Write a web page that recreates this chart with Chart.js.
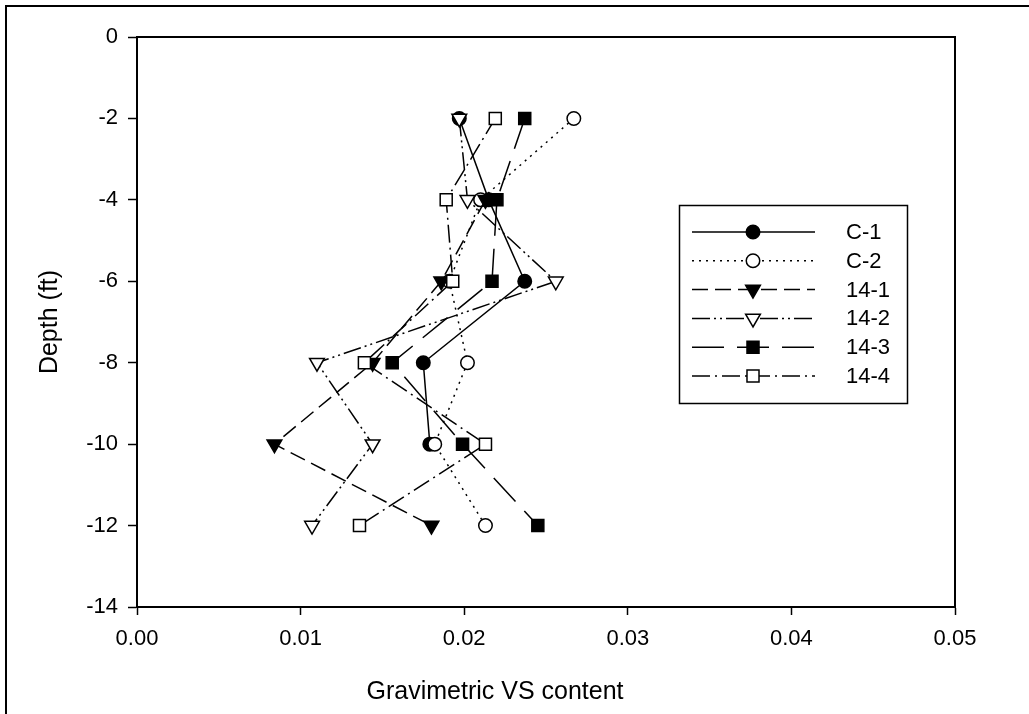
<!DOCTYPE html>
<html>
<head>
<meta charset="utf-8">
<script src="https://cdn.jsdelivr.net/npm/chart.js@4/dist/chart.umd.min.js"></script>
<style>
    html, body { margin: 0; padding: 0; background: #fff; }
    canvas { display: block; }
</style>
</head>
<body>
<canvas id="vs-depth-chart" width="1029" height="714"></canvas>
<script>
// depth of each sample (ft)
const depths = [-2, -4, -6, -8, -10, -12];

// gravimetric VS content per profile (null = no sample)
const c1 = [0.0197, 0.0215, 0.0237, 0.0175, 0.0179, null];
const c2 = [0.0267, 0.0210, 0.0191, 0.0202, 0.0182, 0.0213];
const p141 = [null, 0.0213, 0.0186, 0.0144, 0.0084, 0.0180];
const p142 = [0.0197, 0.0202, 0.0256, 0.0110, 0.0144, 0.0107];
const p143 = [0.0237, 0.0220, 0.0217, 0.0156, 0.0199, 0.0245];
const p144 = [0.0219, 0.0189, 0.0193, 0.0139, 0.0213, 0.0136];

const seriesLabels = ['C-1', 'C-2', '14-1', '14-2', '14-3', '14-4'];
const xTitle = 'Gravimetric VS content';
const yTitle = 'Depth (ft)';

const FONT = "'Liberation Sans', Arial, sans-serif";

const toPoints = (values) => values.map((v, i) => ({ x: v, y: depths[i] }));

const seriesStyles = [
    { values: c1, dash: [], pointStyle: 'circle', radius: 6.75, rotation: 0, fill: '#000' },
    { values: c2, dash: [2, 5], pointStyle: 'circle', radius: 6.75, rotation: 0, fill: '#fff' },
    { values: p141, dash: [16, 7], pointStyle: 'triangle', radius: 8.5, rotation: 180, fill: '#000' },
    { values: p142, dash: [18, 4, 2, 4, 2, 4], pointStyle: 'triangle', radius: 8.5, rotation: 180, fill: '#fff' },
    { values: p143, dash: [32, 13], pointStyle: 'rect', radius: 8.5, rotation: 0, fill: '#000' },
    { values: p144, dash: [18, 5, 2, 5], pointStyle: 'rect', radius: 8.5, rotation: 0, fill: '#fff' },
];

const datasets = seriesStyles.map((s, i) => ({
    label: seriesLabels[i],
    data: toPoints(s.values),
    borderColor: '#000',
    borderWidth: 1.5,
    borderDash: s.dash,
    pointStyle: s.pointStyle,
    pointRadius: s.radius,
    pointRotation: s.rotation,
    pointBackgroundColor: s.fill,
    pointBorderColor: '#000',
    pointBorderWidth: 1.5,
    fill: false,
    tension: 0,
    // later series on top, as in the original
    order: seriesStyles.length - i,
}));

const drawMarker = (ctx, s, x, y) => {
    ctx.save();
    ctx.setLineDash([]);
    ctx.fillStyle = s.fill;
    ctx.strokeStyle = '#000';
    ctx.lineWidth = 1.5;
    Chart.helpers.drawPoint(ctx, {
        pointStyle: s.pointStyle,
        radius: s.radius,
        rotation: s.rotation,
        borderWidth: 1.5,
    }, x, y);
    ctx.restore();
};

const decorPlugin = {
    id: 'decor',
    beforeDraw(chart) {
        const { ctx, width, height } = chart;
        ctx.save();
        ctx.fillStyle = '#fff';
        ctx.fillRect(0, 0, width, height);
        // page border (left and top visible)
        ctx.strokeStyle = '#000';
        ctx.lineWidth = 2;
        ctx.beginPath();
        ctx.moveTo(6, height + 2);
        ctx.lineTo(6, 6);
        ctx.lineTo(width + 2, 6);
        ctx.stroke();
        ctx.restore();
    },
    afterDraw(chart) {
        const { ctx, chartArea: a } = chart;
        ctx.save();

        // close the plot box
        ctx.strokeStyle = '#000';
        ctx.lineWidth = 2;
        ctx.beginPath();
        ctx.moveTo(a.left, a.top);
        ctx.lineTo(a.right, a.top);
        ctx.lineTo(a.right, a.bottom);
        ctx.stroke();

        // axis titles
        ctx.fillStyle = '#000';
        ctx.font = `25px ${FONT}`;
        ctx.textAlign = 'center';
        ctx.textBaseline = 'alphabetic';
        ctx.fillText(xTitle, 495, 699);
        ctx.save();
        ctx.translate(57, (a.top + a.bottom) / 2);
        ctx.rotate(-Math.PI / 2);
        ctx.fillText(yTitle, 0, 0);
        ctx.restore();

        // legend box
        const box = { left: 679, top: 205, right: 907, bottom: 403 };
        ctx.lineWidth = 1.5;
        ctx.strokeRect(box.left + 0.5, box.top + 0.5, box.right - box.left, box.bottom - box.top);

        ctx.font = `22px ${FONT}`;
        ctx.textAlign = 'left';
        ctx.textBaseline = 'middle';
        seriesStyles.forEach((s, i) => {
            const y = 232 + i * 28.8;
            ctx.save();
            ctx.lineWidth = 1.5;
            ctx.setLineDash(s.dash);
            ctx.beginPath();
            ctx.moveTo(692, y);
            ctx.lineTo(815, y);
            ctx.stroke();
            ctx.restore();
            drawMarker(ctx, s, 753, y);
            ctx.fillStyle = '#000';
            ctx.fillText(seriesLabels[i], 846, y + 1);
        });

        ctx.restore();
    },
};

new Chart(document.getElementById('vs-depth-chart'), {
    type: 'line',
    data: { datasets },
    options: {
        responsive: false,
        animation: false,
        devicePixelRatio: 1,
        layout: {
            padding: { left: 0, top: 37, right: 74, bottom: 0 },
        },
        plugins: {
            legend: { display: false },
            tooltip: { enabled: false },
        },
        scales: {
            x: {
                type: 'linear',
                min: 0,
                max: 0.05,
                afterFit: (scale) => { scale.height = 107; },
                ticks: {
                    stepSize: 0.01,
                    color: '#000',
                    padding: 11,
                    maxRotation: 0,
                    font: { family: FONT, size: 22 },
                    callback: (value) => value.toFixed(2),
                },
                grid: {
                    drawOnChartArea: false,
                    drawTicks: true,
                    tickLength: 8,
                    tickWidth: 1.5,
                    tickColor: '#000',
                },
                border: { display: true, color: '#000', width: 2 },
            },
            y: {
                type: 'linear',
                min: -14,
                max: 0,
                afterFit: (scale) => { scale.width = 137; },
                ticks: {
                    stepSize: 2,
                    color: '#000',
                    padding: 10,
                    font: { family: FONT, size: 22 },
                },
                grid: {
                    drawOnChartArea: false,
                    drawTicks: true,
                    tickLength: 9,
                    tickWidth: 1.5,
                    tickColor: '#000',
                },
                border: { display: true, color: '#000', width: 2 },
            },
        },
    },
    plugins: [decorPlugin],
});
</script>
</body>
</html>
